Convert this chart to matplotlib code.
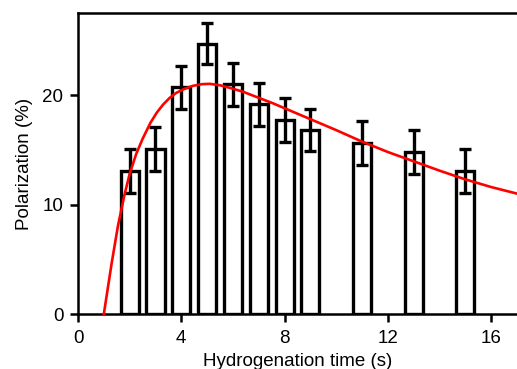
import numpy as np
import matplotlib
matplotlib.use('Agg')
import matplotlib.pyplot as plt

# measured polarization per hydrogenation time
times = [2, 3, 4, 5, 6, 7, 8, 9, 11, 13, 15]
polarization = [13.1, 15.1, 20.7, 24.7, 21.0, 19.15, 17.7, 16.8, 15.65, 14.8, 13.1]
errors = [2.0, 2.0, 2.0, 1.9, 1.95, 2.0, 2.0, 1.95, 2.0, 2.0, 2.0]

# fitted curve
fit_t = [1.0, 1.3, 1.55, 1.8, 2.0, 2.25, 2.5, 2.8, 3.05, 3.3, 3.55, 3.8, 4.1, 4.45,
         4.8, 5.1, 5.5, 5.9, 6.4, 7.0, 7.5, 8.0, 9.0, 10.0, 11.0, 12.0, 13.0, 14.0,
         15.0, 16.0, 17.0]
fit_p = [0.0, 4.6, 8.1, 10.9, 12.8, 14.6, 16.0, 17.45, 18.4, 19.15, 19.75, 20.2, 20.55, 20.85,
         21.0, 21.03, 20.9, 20.65, 20.3, 19.75, 19.3, 18.8, 17.8, 16.8, 15.75, 14.8, 13.95, 13.1,
         12.3, 11.6, 11.0]

plt.rcParams['font.family'] = ['Liberation Sans', 'DejaVu Sans']

fig = plt.figure(figsize=(5.17, 3.69), dpi=100)
ax = fig.add_axes([0.1509, 0.149, 0.8491, 0.8157])

ax.bar(times, polarization, width=0.7, color='white', edgecolor='black',
       linewidth=2.4, zorder=2)
ax.errorbar(times, polarization, yerr=errors, fmt='none', ecolor='black',
            elinewidth=2.4, capsize=4, capthick=2.4, zorder=3)
ax.plot(fit_t, fit_p, color='#ff0000', linewidth=1.9, zorder=4, clip_on=False)

ax.set_xlim(0, 17)
ax.set_ylim(0, 27.5)
ax.set_xticks([0, 4, 8, 12, 16])
ax.set_yticks([0, 10, 20])

for side in ['left', 'top', 'bottom']:
  ax.spines[side].set_linewidth(1.8)
ax.spines['right'].set_visible(False)

ax.tick_params(axis='both', direction='out', length=5.5, width=1.8,
               labelsize=13.5, pad=5)
ax.tick_params(axis='x', pad=6)

ax.set_xlabel('Hydrogenation time (s)', fontsize=13.5, labelpad=4)
ax.set_ylabel('Polarization (%)', fontsize=13.5, labelpad=7)

fig.savefig('out.png', dpi=100)
